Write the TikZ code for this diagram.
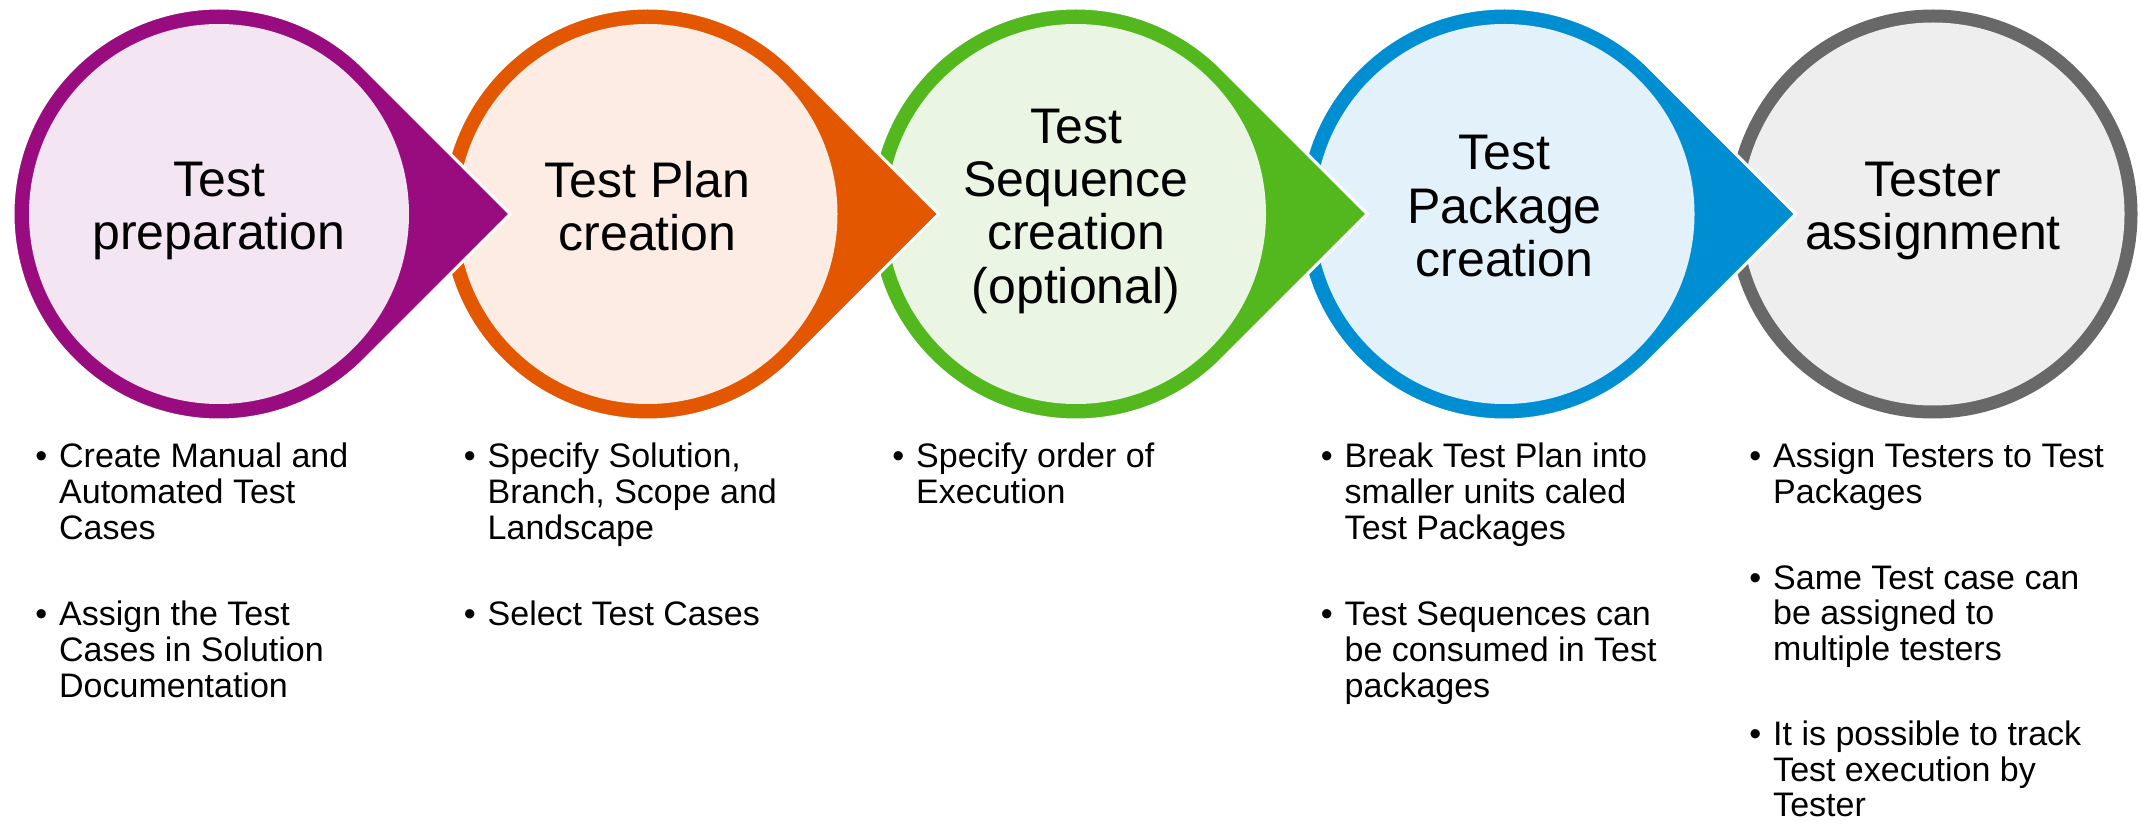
\documentclass[tikz,border=0pt]{standalone}
\usepackage{fontspec}
\setmainfont{Liberation Sans}
\usetikzlibrary{positioning}

% ring and fill colours of the five stages
\definecolor{prepRing}{RGB}{152,12,127}
\definecolor{prepFill}{RGB}{243,229,242}
\definecolor{planRing}{RGB}{227,87,0}
\definecolor{planFill}{RGB}{252,236,227}
\definecolor{seqRing}{RGB}{82,184,29}
\definecolor{seqFill}{RGB}{234,245,228}
\definecolor{pkgRing}{RGB}{0,142,211}
\definecolor{pkgFill}{RGB}{227,242,250}
\definecolor{assignRing}{RGB}{104,104,104}
\definecolor{assignFill}{RGB}{238,238,238}

\newcommand{\bul}{\llap{\textbullet\hspace{12pt}}}
\newcommand{\topstrut}{\rule{0pt}{44.6pt}}

\begin{document}
\begin{tikzpicture}[x=1pt, y=1pt,
    stage/.style={circle, minimum size=380pt, inner sep=0pt, align=center,
      font=\fontsize{50pt}{53.3pt}\selectfont,
      execute at begin node=\topstrut, execute at end node=\strut},
    drop/.style={draw=white, line width=3pt, line join=miter},
    notes/.style={anchor=north west, inner sep=0pt, align=left,
      font=\fontsize{34pt}{35.7pt}\selectfont, execute at begin node=\strut}]

        % Page frame
        \useasboundingbox (0,0) rectangle (2141,823);

        % Tester assignment (lies under the blue tip)
        \fill[assignRing] (1933,609) circle[radius=204.5pt];
        \node[stage, fill=assignFill, minimum size=383pt] (assign) at (1933,609) {Tester\\assignment};

        % Test Package creation
        \path[drop, fill=pkgRing] (1504.5,609) ++(45:206pt) arc[start angle=45, end angle=315, radius=206pt] -- (1795.8,609) -- cycle;
        \node[stage, fill=pkgFill] (pkg) at (1504.5,609) {Test\\Package\\creation};

        % Test Sequence creation
        \path[drop, fill=seqRing] (1076,609) ++(45:206pt) arc[start angle=45, end angle=315, radius=206pt] -- (1367.3,609) -- cycle;
        \node[stage, fill=seqFill] (seq) at (1076,609) {Test\\Sequence\\creation\\(optional)};

        % Test Plan creation
        \path[drop, fill=planRing] (647.5,609) ++(45:206pt) arc[start angle=45, end angle=315, radius=206pt] -- (938.8,609) -- cycle;
        \node[stage, fill=planFill] (plan) at (647.5,609) {Test Plan\\creation};

        % Test preparation (on top of all)
        \path[drop, fill=prepRing] (219,609) ++(45:206pt) arc[start angle=45, end angle=315, radius=206pt] -- (510.3,609) -- cycle;
        \node[stage, fill=prepFill] (prep) at (219,609) {Test\\preparation};

        % Bullet notes under each stage
        \node[notes] (prepnotes) at (59,380) {\bul Create Manual and\\Automated Test\\Cases\\[51pt]
          \bul Assign the Test\\Cases in Solution\\Documentation};
        \node[notes] (plannotes) at (487.5,380) {\bul Specify Solution,\\Branch, Scope and\\Landscape\\[51pt]
          \bul Select Test Cases};
        \node[notes] (seqnotes) at (916,380) {\bul Specify order of\\Execution};
        \node[notes] (pkgnotes) at (1344.5,380) {\bul Break Test Plan into\\smaller units caled\\Test Packages\\[51pt]
          \bul Test Sequences can\\be consumed in Test\\packages};
        \node[notes] (assignnotes) at (1773,380) {\bul Assign Testers to Test\\Packages\\[50pt]
          \bul Same Test case can\\be assigned to\\multiple testers\\[49pt]
          \bul It is possible to track\\Test execution by\\Tester};
      \end{tikzpicture}
\end{document}
